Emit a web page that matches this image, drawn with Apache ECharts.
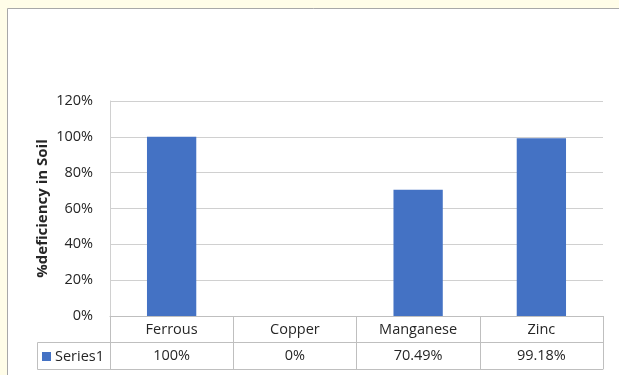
<!DOCTYPE html>
<html>
<head>
<meta charset="utf-8">
<script src="https://cdn.jsdelivr.net/npm/echarts@6/dist/echarts.min.js"></script>
<style>
html,body{margin:0;padding:0;background:#FFFDE8;}
#c{width:619px;height:375px;}
</style>
</head>
<body>
<div id="c"></div>
<script>
var categories = ['Ferrous', 'Copper', 'Manganese', 'Zinc'];
var values = [1.00, 0.00, 0.7049, 0.9918];
var seriesName = 'Series1';
var yTicks = [0, 0.2, 0.4, 0.6, 0.8, 1.0, 1.2];
var yTitle = '%deficiency in Soil';

function pct(v){ return parseFloat((v*100).toFixed(2)) + '%'; }
var valueLabels = values.map(pct);

var font = '"Open Sans", "Noto Sans", sans-serif';
var txt = '#262626';
var tableLine = '#bfbfbf';
var gridLine = '#d0d0d0';

var chart = echarts.init(document.getElementById('c'), null, {renderer:'canvas'});
chart.setOption({
  backgroundColor: '#FFFDE8',
  animation: false,
  textStyle: {fontFamily: font},
  grid: {left:110, right:16, top:101, bottom:59, containLabel:false},
  graphic: [
    {type:'rect', z:-10, shape:{x:7.5, y:8.5, width:700, height:500},
     style:{fill:'#ffffff', stroke:'#a8a8a8', lineWidth:1}},
    {type:'rect', z:5, shape:{x:37.5, y:342.5, width:73, height:27},
     style:{fill:'none', stroke:tableLine, lineWidth:1}}
  ],
  legend: {
    data:[seriesName], left:42, top:349, padding:0,
    itemWidth:9, itemHeight:9, itemGap:5,
    icon:'rect',
    textStyle:{fontFamily:font, fontSize:14.5, color:txt, padding:[0,0,0,-1]}
  },
  xAxis: [
    {type:'category', data:categories, position:'bottom',
     axisLine:{show:true, lineStyle:{color:tableLine, width:1}},
     axisTick:{show:true, length:53, interval:0, lineStyle:{color:tableLine}},
     axisLabel:{color:txt, fontSize:14.5, fontFamily:font, margin:6, interval:0},
     splitLine:{show:false}},
    {type:'category', data:valueLabels, position:'bottom', offset:26,
     axisLine:{show:true, lineStyle:{color:tableLine, width:1}},
     axisTick:{show:false},
     axisLabel:{color:txt, fontSize:14.5, fontFamily:font, margin:6, interval:0},
     splitLine:{show:false}},
    {type:'category', data:categories, position:'bottom', offset:53,
     axisLine:{show:true, lineStyle:{color:tableLine, width:1}},
     axisTick:{show:false}, axisLabel:{show:false}, splitLine:{show:false}}
  ],
  yAxis: {
    type:'value', min:yTicks[0], max:yTicks[yTicks.length-1], interval:0.2,
    name: yTitle, nameLocation:'middle', nameGap:60, nameRotate:90,
    nameMoveOverlap:false,
    nameTextStyle:{fontFamily:font, fontSize:15, fontWeight:'bold', color:txt},
    axisLine:{show:true, lineStyle:{color:gridLine}},
    axisTick:{show:false},
    axisLabel:{color:txt, fontSize:14.5, fontFamily:font, margin:17,
      formatter:function(v){ return Math.round(v*100) + '%'; }},
    splitLine:{show:true, lineStyle:{color:gridLine, width:1}}
  },
  series: [{
    name: seriesName, type:'bar', data: values, xAxisIndex:0,
    barWidth:'40%', itemStyle:{color:'#4472C4'}
  }]
});
</script>
</body>
</html>
